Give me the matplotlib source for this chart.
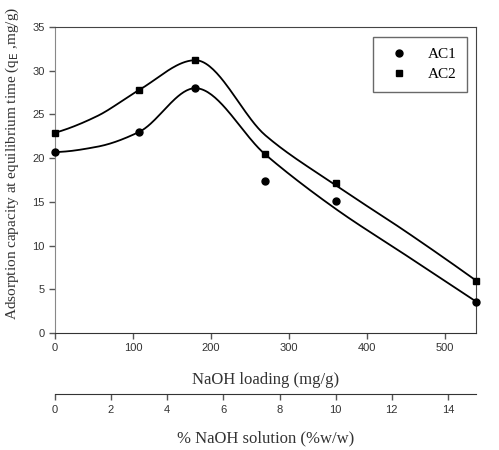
import numpy as np
import matplotlib
matplotlib.use('Agg')
import matplotlib.pyplot as plt

# measured points
loading = [0, 108, 180, 270, 360, 540]
ac1 = [20.7, 23.0, 28.0, 17.4, 15.1, 3.6]
ac2 = [22.9, 27.8, 31.2, 20.5, 17.2, 6.0]

# knots of the smoothed trend lines
curve_x = [0, 54, 108, 180, 270, 360, 450, 540]
curve_ac1 = [20.7, 21.3, 23.0, 28.0, 20.4, 14.2, 8.9, 3.6]
curve_ac2 = [22.9, 24.8, 27.8, 31.2, 22.6, 16.9, 11.6, 6.0]

naoh_ticks = [0, 2, 4, 6, 8, 10, 12, 14]


def smooth(xk, yk, n=40):
    # shape preserving cubic (pchip) through the knots
    xk = np.asarray(xk, float)
    yk = np.asarray(yk, float)
    h = np.diff(xk)
    d = np.diff(yk) / h
    m = np.zeros_like(yk)
    for i in range(1, len(xk) - 1):
        if d[i-1] * d[i] > 0:
            w1 = 2*h[i] + h[i-1]
            w2 = h[i] + 2*h[i-1]
            m[i] = (w1 + w2) / (w1/d[i-1] + w2/d[i])
    m[0] = ((2*h[0] + h[1])*d[0] - h[0]*d[1]) / (h[0] + h[1])
    m[-1] = ((2*h[-1] + h[-2])*d[-1] - h[-1]*d[-2]) / (h[-1] + h[-2])
    xs, ys = [], []
    for i in range(len(xk) - 1):
        t = np.linspace(0, 1, n)
        h00 = 2*t**3 - 3*t**2 + 1
        h10 = t**3 - 2*t**2 + t
        h01 = -2*t**3 + 3*t**2
        h11 = t**3 - t**2
        xs.append(xk[i] + t*h[i])
        ys.append(h00*yk[i] + h10*h[i]*m[i] + h01*yk[i+1] + h11*h[i]*m[i+1])
    return np.concatenate(xs), np.concatenate(ys)


serif = 'Liberation Serif'
sans = 'Liberation Sans'

fig = plt.figure(figsize=(4.99, 4.5), dpi=100)
ax = fig.add_axes([0.110, 0.260, 0.844, 0.680])

for yk in (curve_ac1, curve_ac2):
    sx, sy = smooth(curve_x, yk)
    ax.plot(sx, sy, color='black', lw=1.3, zorder=2)

ax.plot(loading, ac1, 'o', color='black', ms=5, clip_on=False, zorder=3, label='AC1')
ax.plot(loading, ac2, 's', color='black', ms=5, clip_on=False, zorder=3, label='AC2')

ax.set_xlim(0, 540)
ax.set_ylim(0, 35)
ax.set_xticks([0, 100, 200, 300, 400, 500])
ax.set_yticks(range(0, 36, 5))
ax.tick_params(direction='out', length=4, width=1, colors='#555555',
               labelcolor='#333333', labelsize=8)
for lab in ax.get_xticklabels() + ax.get_yticklabels():
    lab.set_fontfamily(sans)
ax.spines['left'].set_color('#888888')
ax.spines['bottom'].set_color('#333333')
ax.spines['top'].set_color('#444444')
ax.spines['right'].set_color('#444444')

ax.set_xlabel('NaOH loading (mg/g)', fontfamily=serif, fontsize=12, color='#333333')
ax.xaxis.set_label_coords(0.5, -0.128)
ax.set_ylabel('Adsorption capacity at equilibrium time (q$_\\mathrm{E}$ ,mg/g)',
              fontfamily=serif, fontsize=11, color='#333333', va='center')
ax.yaxis.set_label_coords(-0.102, 0.554)

leg = ax.legend(loc='upper left', bbox_to_anchor=(0.755, 0.967), frameon=True,
                borderaxespad=0, fancybox=False, edgecolor='#444444',
                handletextpad=0.9, borderpad=0.7, labelspacing=0.4,
                handlelength=2.0, prop={'family': serif, 'size': 11})
leg.get_frame().set_linewidth(1.0)

# second axis with % NaOH solution
ax2 = ax.twiny()
ax2.set_xlim(0, 15)
ax2.xaxis.set_ticks_position('bottom')
ax2.xaxis.set_label_position('bottom')
ax2.spines['bottom'].set_position(('outward', 44))
for s in ('top', 'left', 'right'):
    ax2.spines[s].set_visible(False)
ax2.spines['bottom'].set_color('#333333')
ax2.set_xticks(naoh_ticks)
ax2.tick_params(direction='out', length=4, width=1, colors='#555555',
                labelcolor='#333333', labelsize=8)
for lab in ax2.get_xticklabels():
    lab.set_fontfamily(sans)
ax2.set_xlabel('% NaOH solution (%w/w)', fontfamily=serif, fontsize=12, color='#333333')
ax2.xaxis.set_label_coords(0.5, -0.318)

fig.savefig('out.png', dpi=100)
